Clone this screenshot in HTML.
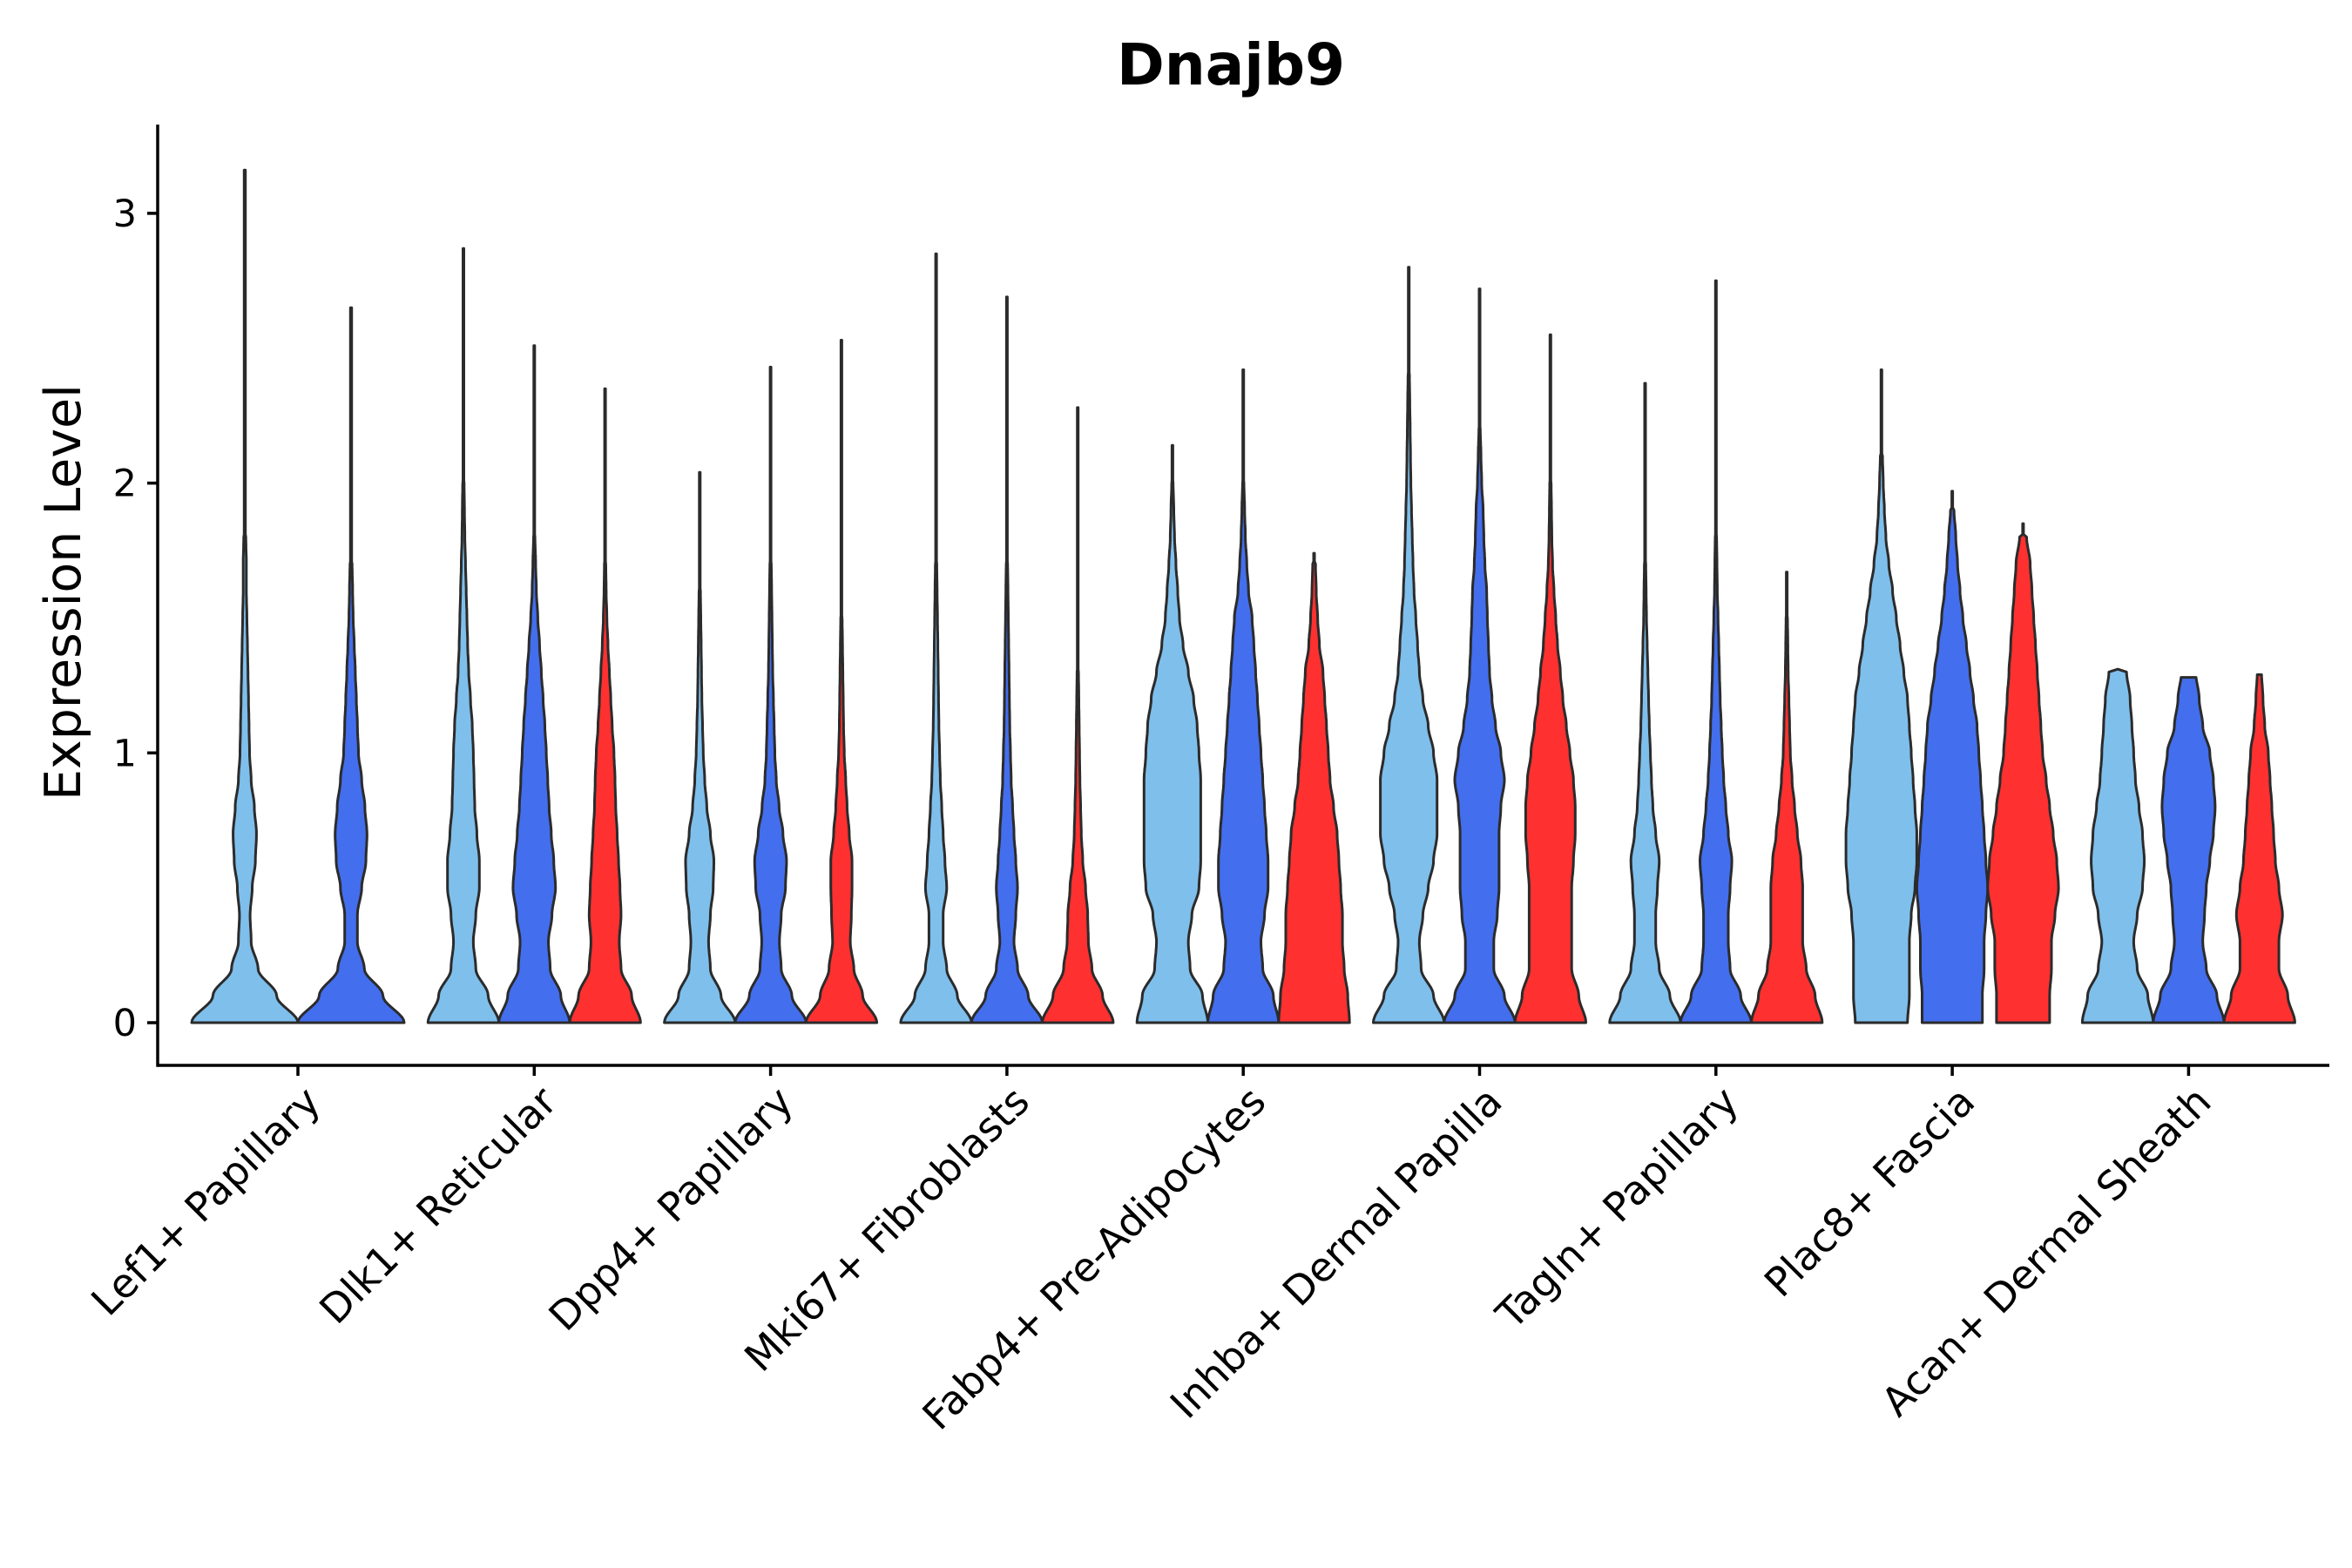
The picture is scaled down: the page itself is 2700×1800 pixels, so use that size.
<!DOCTYPE html>
<html><head><meta charset="utf-8"><style>
html,body{margin:0;padding:0;background:#fff;}
svg{display:block;font-family:"DejaVu Sans","Liberation Sans",sans-serif;}
</style></head><body>
<svg id="chart" width="2700" height="1800" viewBox="0 0 2700 1800">
<rect width="2700" height="1800" fill="#fff"/>
<text x="1413" y="97" font-size="66" font-weight="bold" text-anchor="middle">Dnajb9</text>
<text transform="translate(92,680) rotate(-90)" font-size="57" text-anchor="middle">Expression Level</text>
<g id="violins"></g>
<g id="axes"></g>
</svg>
<script>
const categories=["Lef1+ Papillary","Dlk1+ Reticular","Dpp4+ Papillary","Mki67+ Fibroblasts","Fabp4+ Pre-Adipocytes","Inhba+ Dermal Papilla","Tagln+ Papillary","Plac8+ Fascia","Acan+ Dermal Sheath"];
const seriesNames=["light","blue","red"];
const seriesColors=["#7FBFEC","#436EEE","#FF3030"];
const yTicks=[0,1,2,3];
// max value per violin [light, blue, red]; null = absent
const maxLight=[3.16,2.87,2.04,2.85,2.14,2.80,2.37,2.42,1.31];
const maxBlue=[2.65,2.51,2.43,2.69,2.42,2.72,2.75,1.97,1.28];
const maxRed=[null,2.35,2.53,2.28,1.74,2.55,1.67,1.85,1.29];
// density profiles at 0.1 steps
const densLight=[
[1,0.6,0.25,0.12,0.1,0.14,0.2,0.22,0.18,0.12,0.09,0.08,0.07,0.06,0.05,0.04,0.03,0.03,0.02],
[1,0.7,0.35,0.28,0.35,0.45,0.45,0.38,0.32,0.3,0.28,0.25,0.2,0.15,0.12,0.1,0.08,0.06,0.04,0.03,0.02],
[1,0.6,0.3,0.25,0.3,0.38,0.4,0.3,0.2,0.14,0.1,0.08,0.06,0.05,0.04,0.03,0.02],
[1,0.6,0.3,0.2,0.2,0.3,0.25,0.2,0.16,0.12,0.1,0.08,0.07,0.06,0.05,0.04,0.03,0.02],
[1,0.85,0.5,0.45,0.55,0.75,0.8,0.8,0.8,0.8,0.75,0.7,0.6,0.45,0.3,0.2,0.15,0.1,0.06,0.04,0.02],
[1,0.7,0.35,0.3,0.4,0.55,0.7,0.8,0.8,0.8,0.7,0.55,0.4,0.3,0.25,0.2,0.15,0.12,0.1,0.08,0.06,0.05,0.04,0.03,0.02],
[1,0.7,0.4,0.3,0.3,0.35,0.4,0.3,0.22,0.18,0.15,0.12,0.1,0.08,0.06,0.04,0.03,0.02],
[0.7,0.75,0.75,0.75,0.8,0.9,0.95,0.95,0.9,0.85,0.8,0.75,0.7,0.6,0.5,0.4,0.3,0.2,0.12,0.08,0.05,0.03],
[1,0.85,0.55,0.45,0.55,0.7,0.75,0.7,0.6,0.5,0.45,0.4,0.35,0.25]];
const densBlue=[
[1,0.6,0.25,0.12,0.12,0.2,0.28,0.3,0.26,0.2,0.14,0.12,0.1,0.08,0.06,0.04,0.03,0.02],
[1,0.75,0.45,0.4,0.5,0.6,0.55,0.48,0.42,0.38,0.34,0.3,0.25,0.2,0.15,0.1,0.06,0.04,0.02],
[1,0.6,0.3,0.25,0.3,0.42,0.45,0.35,0.24,0.16,0.12,0.1,0.08,0.06,0.05,0.04,0.03,0.02],
[1,0.6,0.3,0.2,0.25,0.3,0.25,0.2,0.16,0.12,0.1,0.08,0.07,0.06,0.05,0.04,0.03,0.02],
[1,0.85,0.55,0.5,0.6,0.7,0.7,0.65,0.6,0.55,0.5,0.45,0.4,0.35,0.3,0.25,0.15,0.1,0.06,0.04,0.02],
[1,0.7,0.4,0.4,0.5,0.55,0.55,0.55,0.6,0.7,0.6,0.45,0.35,0.28,0.25,0.22,0.2,0.15,0.12,0.1,0.06,0.04,0.02],
[1,0.7,0.4,0.35,0.35,0.4,0.45,0.35,0.28,0.22,0.18,0.15,0.12,0.1,0.08,0.06,0.04,0.03,0.02],
[0.85,0.85,0.9,0.9,0.95,1,0.95,0.9,0.85,0.8,0.75,0.7,0.6,0.5,0.4,0.3,0.22,0.15,0.1,0.05],
[1,0.8,0.5,0.4,0.45,0.5,0.6,0.7,0.75,0.7,0.6,0.4,0.3,0.2]];
const densRed=[
null,
[1,0.75,0.45,0.4,0.45,0.42,0.38,0.34,0.3,0.28,0.25,0.2,0.16,0.12,0.08,0.05,0.03,0.02],
[1,0.6,0.35,0.25,0.28,0.3,0.3,0.22,0.16,0.12,0.08,0.06,0.05,0.04,0.03,0.02],
[1,0.7,0.4,0.3,0.28,0.22,0.14,0.1,0.08,0.06,0.05,0.04,0.03,0.02],
[1,0.95,0.85,0.8,0.8,0.75,0.7,0.65,0.55,0.45,0.4,0.35,0.3,0.25,0.15,0.1,0.06,0.04],
[1,0.8,0.6,0.6,0.6,0.6,0.65,0.7,0.7,0.65,0.55,0.45,0.35,0.28,0.2,0.15,0.1,0.06,0.04,0.03,0.02],
[1,0.8,0.55,0.45,0.45,0.45,0.4,0.3,0.22,0.15,0.1,0.08,0.06,0.04,0.03,0.02],
[0.75,0.75,0.8,0.8,0.9,1,0.95,0.85,0.75,0.65,0.55,0.5,0.45,0.4,0.35,0.3,0.25,0.2,0.1],
[1,0.8,0.55,0.55,0.65,0.55,0.45,0.4,0.35,0.3,0.25,0.15,0.1,0.06]];

const NS="http://www.w3.org/2000/svg";
const X0=181, XEND=2674, YTOP=143, YAX=1223, Y0=1174, UNIT=309.7;
const C0=342, STEP=271.3, GW=244;
const yScale=v=>Y0-v*UNIT;
const xScale=i=>C0+i*STEP;
function mk(tag,attrs,parent){const e=document.createElementNS(NS,tag);for(const k in attrs)e.setAttribute(k,attrs[k]);parent.appendChild(e);return e;}
const vg=document.getElementById('violins'), ag=document.getElementById('axes');
function widthAt(p,y){const t=y/0.1;const i=Math.floor(t);
  if(i>=p.length-1){return t<=p.length-1+1e-9?p[p.length-1]:0.012;}
  let f=t-i; f=f*f*(3-2*f); return p[i]*(1-f)+p[i+1]*f;}
categories.forEach((cat,i)=>{
  const maxes=[maxLight[i],maxBlue[i],maxRed[i]], dens=[densLight[i],densBlue[i],densRed[i]];
  const present=[0,1,2].filter(k=>maxes[k]!==null);
  const slot=GW/present.length;
  present.forEach((k,j)=>{
    const p=dens[k], mx=maxes[k], pm=Math.max(...p);
    const cx=xScale(i)-GW/2+slot*(j+0.5), hw=slot/2;
    const right=[], left=[];
    const n=Math.ceil(mx/0.01);
    for(let s=0;s<=n;s++){const y=Math.min(s*0.01,mx);const w=widthAt(p,y)/pm*hw;right.push([cx+w,yScale(y)]);left.push([cx-w,yScale(y)]);}
    const pts=right.concat(left.reverse());
    const d="M"+pts.map(q=>q[0].toFixed(1)+","+q[1].toFixed(1)).join("L")+"Z";
    const path=mk('path',{d:d,fill:seriesColors[k],stroke:'#2b2b2b','stroke-width':3,'stroke-linejoin':'round'},vg);
    
    
  });
  const tk=mk('line',{x1:xScale(i),x2:xScale(i),y1:YAX,y2:YAX+12,stroke:'#000','stroke-width':3.5},ag);
  
  
  const tx=mk('text',{transform:`translate(${xScale(i)+4},${YAX+20}) rotate(-45)`,'text-anchor':'end','font-size':46,'dominant-baseline':'hanging'},ag);
  tx.textContent=cat;
  
  
});
yTicks.forEach(v=>{
  const l=mk('line',{x1:X0-12,x2:X0,y1:yScale(v),y2:yScale(v),stroke:'#000','stroke-width':3.5},ag);
  
  
  const t=mk('text',{x:X0-24,y:yScale(v)+15,'text-anchor':'end','font-size':43},ag);
  t.textContent=v;
  
  
});
const ya=mk('line',{x1:X0,x2:X0,y1:YTOP,y2:YAX+1.75,stroke:'#000','stroke-width':3.5},ag);


const xa=mk('line',{x1:X0,x2:XEND,y1:YAX,y2:YAX,stroke:'#000','stroke-width':3.5},ag);


</script>
</body></html>
